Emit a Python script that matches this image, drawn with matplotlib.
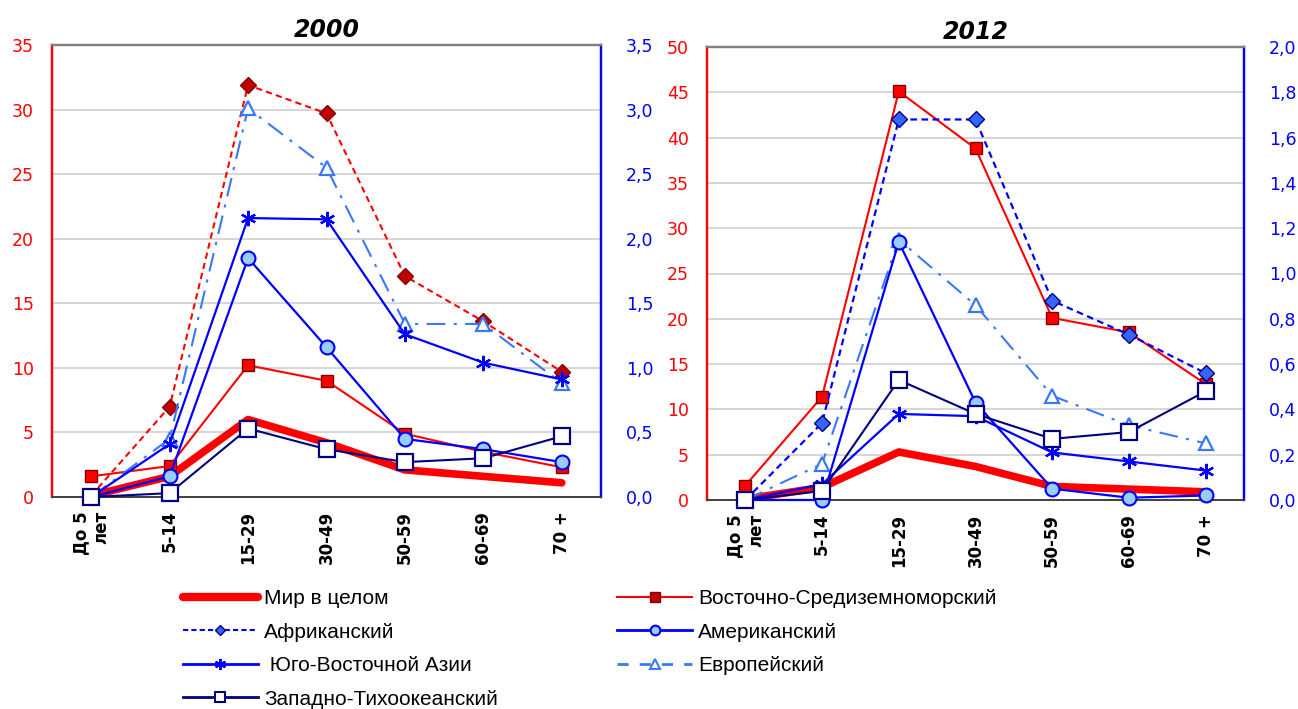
import matplotlib
matplotlib.use("Agg")
import matplotlib.pyplot as plt
from matplotlib.lines import Line2D
from matplotlib.ticker import FuncFormatter, MultipleLocator

ages = ["До 5\nлет", "5-14", "15-29", "30-49", "50-59", "60-69", "70 +"]

# 2000: red series on the left axis (0-35), blue series on the right axis (0-3,5)
world_2000 = [0.1, 1.6, 6.0, 4.2, 2.1, 1.6, 1.1]
emed_2000 = [1.6, 2.4, 10.2, 9.0, 4.9, 3.5, 2.3]
africa_2000 = [0.1, 7.0, 31.9, 29.7, 17.1, 13.6, 9.7]
america_2000 = [0.0, 0.16, 1.85, 1.16, 0.45, 0.37, 0.27]
seasia_2000 = [0.0, 0.41, 2.16, 2.15, 1.26, 1.04, 0.91]
europe_2000 = [0.0, 0.45, 3.01, 2.55, 1.34, 1.34, 0.88]
wpac_2000 = [0.0, 0.03, 0.53, 0.37, 0.27, 0.30, 0.47]

# 2012: red series on the left axis (0-50), blue series on the right axis (0-2,0)
world_2012 = [0.1, 1.4, 5.3, 3.7, 1.5, 1.2, 0.9]
emed_2012 = [1.6, 11.4, 45.1, 38.8, 20.1, 18.5, 12.8]
africa_2012 = [0.0, 0.34, 1.68, 1.68, 0.88, 0.73, 0.56]
america_2012 = [0.0, 0.0, 1.14, 0.43, 0.05, 0.01, 0.02]
seasia_2012 = [0.0, 0.07, 0.38, 0.37, 0.21, 0.17, 0.13]
europe_2012 = [0.0, 0.16, 1.15, 0.86, 0.46, 0.33, 0.25]
wpac_2012 = [0.0, 0.04, 0.53, 0.38, 0.27, 0.30, 0.48]

labels = ["Мир в целом", "Африканский", " Юго-Восточной Азии", "Западно-Тихоокеанский",
          "Восточно-Средиземноморский", "Американский", "Европейский"]

RED = "#FF0000"
DRED = "#800000"
BLUE = "#0000FF"
NAVY = "#000080"
LBLUE = "#3A78F5"
CBLUE = "#99CCFF"
ASTER = (6, 2, 0)

plt.rcParams["font.family"] = ["DejaVu Sans"]

x = list(range(len(ages)))

fig = plt.figure(figsize=(12.98, 7.09), dpi=100)
W, H = 1298, 709


def comma(v, pos):
    return f"{v:.1f}".replace(".", ",")


def setup(ax, axr, ymax, ystep, rmax, rstep, title):
    ax.set_xlim(-0.5, 6.5)
    ax.set_ylim(0, ymax)
    axr.set_ylim(0, rmax)
    ax.yaxis.set_major_locator(MultipleLocator(ystep))
    axr.yaxis.set_major_locator(MultipleLocator(rstep))
    axr.yaxis.set_major_formatter(FuncFormatter(comma))
    ax.grid(axis="y", color="#D0D0D0", lw=1.2)
    ax.set_axisbelow(True)
    ax.tick_params(axis="y", length=0, pad=13, labelsize=12.5, labelcolor=RED)
    axr.tick_params(axis="y", length=0, pad=18, labelsize=12.5, labelcolor=BLUE)
    ax.set_xticks(x)
    ax.set_xticklabels(ages, rotation=90, fontsize=12, fontweight="bold", va="top",
                       ha="center", multialignment="right")
    ax.tick_params(axis="x", length=0, pad=10)
    for a in (ax, axr):
        a.spines["top"].set_color("#808080")
        a.spines["top"].set_linewidth(1.6)
        a.spines["bottom"].set_color("#404040")
        a.spines["bottom"].set_linewidth(1.2)
        a.spines["left"].set_color(RED)
        a.spines["left"].set_linewidth(1.6)
        a.spines["right"].set_color(BLUE)
        a.spines["right"].set_linewidth(1.6)
    ax.set_title(title, fontsize=17, fontweight="bold", style="italic", pad=6)
    axr.set_zorder(ax.get_zorder() + 1)
    ax.patch.set_visible(True)
    axr.patch.set_visible(False)


def draw_world(ax, vals):
    ax.plot(x, vals, color=RED, lw=5.5, solid_capstyle="round", zorder=3)


def draw_emed(ax, vals):
    ax.plot(x, vals, color=RED, lw=1.5, marker="s", ms=8.5, mfc=RED, mec=DRED,
            mew=1.0, zorder=4, clip_on=False)


def draw_america(ax, vals):
    ax.plot(x, vals, color=BLUE, lw=1.6, marker="o", ms=10, mfc=CBLUE, mec=BLUE,
            mew=1.5, zorder=6, clip_on=False)


def draw_seasia(ax, vals):
    ax.plot(x, vals, color=BLUE, lw=1.6, marker=ASTER, ms=11, mec=BLUE, mew=1.6,
            zorder=5, clip_on=False)


def draw_europe(ax, vals):
    ax.plot(x, vals, color=LBLUE, lw=1.5, dashes=(9, 4, 1.5, 4), marker="^", ms=10,
            mfc="white", mec=LBLUE, mew=1.6, zorder=4, clip_on=False)


def draw_wpac(ax, vals):
    ax.plot(x, vals, color=NAVY, lw=1.5, marker="s", ms=11, mfc="white", mec=NAVY,
            mew=1.6, zorder=7, clip_on=False)


# ---- 2000
ax1 = fig.add_axes([52 / W, 1 - 497 / H, 549 / W, 452 / H])
ax1r = ax1.twinx()
setup(ax1, ax1r, 35, 5, 3.5, 0.5, "2000")
draw_world(ax1, world_2000)
ax1.plot(x, africa_2000, color=RED, lw=1.5, dashes=(3, 2), marker="D", ms=8,
         mfc="#C00000", mec=DRED, mew=1.0, zorder=4, clip_on=False)
draw_emed(ax1, emed_2000)
draw_europe(ax1r, europe_2000)
draw_seasia(ax1r, seasia_2000)
draw_america(ax1r, america_2000)
draw_wpac(ax1r, wpac_2000)

# ---- 2012
ax2 = fig.add_axes([707 / W, 1 - 500 / H, 537 / W, 453 / H])
ax2r = ax2.twinx()
setup(ax2, ax2r, 50, 5, 2.0, 0.2, "2012")
draw_world(ax2, world_2012)
draw_emed(ax2, emed_2012)
ax2r.plot(x, africa_2012, color=BLUE, lw=1.6, dashes=(3, 2), marker="D", ms=8,
          mfc="#3366FF", mec=NAVY, mew=1.0, zorder=4, clip_on=False)
draw_europe(ax2r, europe_2012)
draw_seasia(ax2r, seasia_2012)
draw_america(ax2r, america_2012)
draw_wpac(ax2r, wpac_2012)

# ---- legend
h_world = Line2D([], [], color=RED, lw=6, solid_capstyle="round")
h_africa = Line2D([], [], color=BLUE, lw=1.5, dashes=(2.5, 1.5), marker="D", ms=5,
                  mfc="#3366FF", mec=NAVY)
h_seasia = Line2D([], [], color=BLUE, lw=2, marker=ASTER, ms=8, mec=BLUE, mew=1.5)
h_wpac = Line2D([], [], color=NAVY, lw=2, marker="s", ms=7, mfc="white", mec=NAVY, mew=1.5)
h_emed = Line2D([], [], color=RED, lw=1.5, marker="s", ms=7, mfc="#C00000", mec=DRED)
h_america = Line2D([], [], color=BLUE, lw=2, marker="o", ms=7, mfc=CBLUE, mec=BLUE, mew=1.5)
h_europe = Line2D([], [], color=LBLUE, lw=2, dashes=(4, 4), marker="^", ms=7,
                  mfc="white", mec=LBLUE, mew=1.5)

lg_kw = dict(frameon=False, loc="upper left", borderpad=0, borderaxespad=0,
             handlelength=3.6, handletextpad=0.3, labelspacing=0.7,
             prop={"family": ["Liberation Sans Narrow", "Liberation Sans"], "size": 15})
fig.legend([h_world, h_africa, h_seasia, h_wpac], labels[:4],
           bbox_to_anchor=(183 / W, 1 - 589 / H), **lg_kw)
fig.legend([h_emed, h_america, h_europe], labels[4:],
           bbox_to_anchor=(617 / W, 1 - 589 / H), **lg_kw)

fig.savefig("out.png", dpi=100)
